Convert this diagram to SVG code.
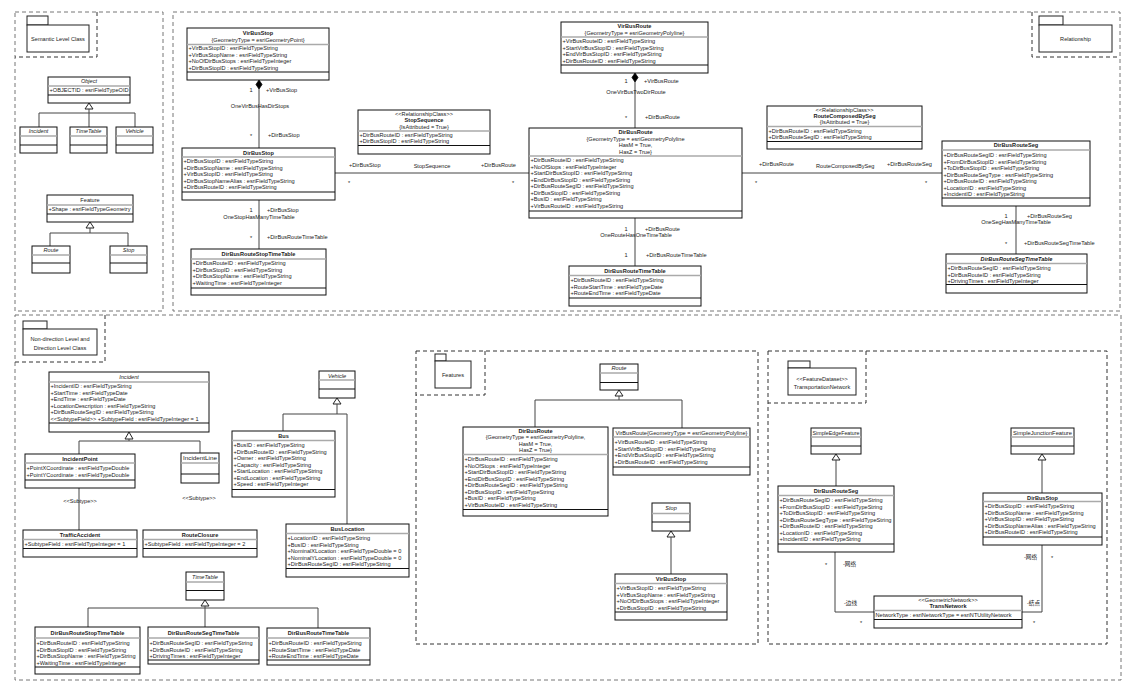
<svg xmlns="http://www.w3.org/2000/svg" width="1132" height="693" viewBox="0 0 1132 693">
<style>
text{font-family:"Liberation Sans","Noto Sans CJK SC",Arial,sans-serif;font-size:5.6px;fill:#1a1a1a}
.t{font-weight:bold;text-anchor:middle}
.i{font-style:italic;text-anchor:middle}
.c{text-anchor:middle}
.e{text-anchor:end}
.box{fill:#fff;stroke:#111;stroke-width:1}
.s1{stroke:#aaa;stroke-width:1.4;fill:none}
.s2{stroke:#111;stroke-width:1.2;fill:none}
.panel{fill:none;stroke:#777;stroke-width:1;stroke-dasharray:4 3}
.pk{fill:none;stroke:#333;stroke-width:1;stroke-dasharray:4 3}
.fold{fill:#fff;stroke:#222;stroke-width:1}
.ln{fill:none;stroke:#444;stroke-width:1}
.tri{fill:#fff;stroke:#222;stroke-width:1}
.dia{fill:#000;stroke:#000;stroke-width:0.8}
</style>
<rect x="0" y="0" width="1132" height="693" fill="#fff"/>

<g id="panels">
<rect class="panel" x="15" y="12" width="148" height="299"/>
<rect class="panel" x="173" y="12" width="947" height="299"/>
<rect class="panel" x="15" y="315" width="1106" height="365"/>
<rect class="pk" x="416" y="351" width="342" height="293"/>
<rect class="pk" x="768" y="351" width="339" height="293"/>
<path class="pk" d="M97,12V57H15"/>
<path class="pk" d="M1032,12V57H1120"/>
<path class="pk" d="M105,315V362H15"/>
<path class="pk" d="M485,351V395H416"/>
<path class="pk" d="M866,351V403H768"/>
</g>

<g id="pkg-semantic"><rect class="fold" x="27" y="16" width="21" height="9"/><rect class="fold" x="27" y="25" width="62" height="27"/><text class="c" x="58" y="40.5">Semantic Level Class</text></g>
<g id="pkg-relationship"><rect class="fold" x="1039" y="16" width="24" height="9"/><rect class="fold" x="1039" y="25" width="73" height="27"/><text class="c" x="1075.5" y="40.5">Relationship</text></g>
<g id="pkg-nondirection"><rect class="fold" x="23" y="321" width="24" height="8"/><rect class="fold" x="23" y="329" width="74" height="26"/><text class="c" x="60" y="341">Non-direction Level and</text><text class="c" x="60" y="349.5">Direction Level Class</text></g>
<g id="pkg-features"><rect class="fold" x="435" y="354" width="11" height="7"/><rect class="fold" x="435" y="361" width="36" height="27"/><text class="c" x="453" y="377">Features</text></g>
<g id="pkg-transnet"><rect class="fold" x="788" y="361" width="22" height="7"/><rect class="fold" x="788" y="368" width="68" height="27"/><text class="c" x="822" y="381">&lt;&lt;FeatureDataset&gt;&gt;</text><text class="c" x="822" y="388.5">TransportationNetwork</text></g>

<g id="connectors">
<path class="tri" d="M89,103L93,109H85Z"/>
<path class="ln" d="M89,109V113M39,113H135M39,113V127M89,113V127M135,113V127"/>
<path class="tri" d="M90,222L94,228H86Z"/>
<path class="ln" d="M90,228V233M50,233H128M50,233V246M128,233V246"/>
<path class="dia" d="M259,80L262,84.5L259,89L256,84.5Z"/>
<path class="ln" d="M259,89V148M259,200V249M335,173H529"/>
<path class="dia" d="M635,73L638,77.5L635,82L632,77.5Z"/>
<path class="ln" d="M635,82V128M635,218V266M742,173H942M1016,206V254"/>
<path class="tri" d="M129,432L133,439H125Z"/>
<path class="ln" d="M129,439V441M79,441H200M79,441V454M200,441V453M79,488V530"/>
<path class="tri" d="M205,600L209,606H201Z"/>
<path class="ln" d="M205,606V608M88,608H318M88,608V627M205,608V627M318,608V628"/>
<path class="tri" d="M337,398L341,404H333Z"/>
<path class="ln" d="M337,404V414M283,414H347M283,414V431M347,414V524"/>
<path class="tri" d="M619,390L623,396H615Z"/>
<path class="ln" d="M619,396V400M535,400H682M535,400V427M682,400V428"/>
<path class="tri" d="M671,531L675,537H667Z"/>
<path class="ln" d="M671,537V574"/>
<path class="tri" d="M836,454L840,460H832Z"/>
<path class="ln" d="M836,460V486"/>
<path class="tri" d="M1042,454L1046,460H1038Z"/>
<path class="ln" d="M1042,460V493"/>
<path class="ln" d="M835,552V612H874M1042,545V612H1022"/>
<text class="c" x="251" y="92">1</text><text x="266" y="92">+VirBusStop</text>
<text class="c" x="260" y="108">OneVirBusHasDirStops</text>
<text class="c" x="251" y="138">*</text><text x="268" y="137">+DirBusStop</text>
<text class="c" x="251" y="212">1</text><text x="267" y="212">+DirBusStop</text>
<text class="c" x="259" y="219">OneStopHasManyTimeTable</text>
<text class="c" x="251" y="240">*</text><text x="267" y="239">+DirBusRouteTimeTable</text>
<text x="349" y="166.5">+DirBusStop</text><text class="c" x="432" y="168">StopSequence</text><text x="481" y="166.5">+DirBusRoute</text>
<text class="c" x="349" y="185">*</text><text class="c" x="513" y="185">*</text>
<text class="c" x="626" y="83">1</text><text x="644" y="83">+VirBusRoute</text>
<text class="c" x="636" y="94">OneVirBusTwoDirRoute</text>
<text class="c" x="626" y="120">*</text><text x="645" y="119">+DirBusRoute</text>
<text class="c" x="626" y="231">1</text><text x="645" y="231">+DirBusRoute</text>
<text class="c" x="636" y="237">OneRouteHasOneTimeTable</text>
<text class="c" x="626" y="257">1</text><text x="646" y="257">+DirBusRouteTimeTable</text>
<text x="759" y="166">+DirBusRoute</text><text x="816" y="168">RouteComposedBySeg</text><text x="887" y="166">+DirBusRouteSeg</text>
<text class="c" x="756" y="185">*</text><text class="c" x="926" y="185">*</text>
<text class="c" x="1006" y="218">1</text><text x="1027" y="218">+DirBusRouteSeg</text>
<text class="c" x="1016" y="224">OneSegHasManyTimeTable</text>
<text class="c" x="1006" y="246">*</text><text x="1024" y="245">+DirBusRouteSegTimeTable</text>
<text class="c" x="80" y="503">&lt;&lt;Subtype&gt;&gt;</text>
<text class="c" x="199" y="500">&lt;&lt;Subtype&gt;&gt;</text>
<text class="c" x="826" y="567">*</text><text x="843" y="566">-网络</text>
<text x="844" y="605">-边线</text><text class="c" x="861" y="625">*</text>
<text class="e" x="1037" y="559">-网络</text><text class="c" x="1052" y="560">*</text>
<text class="e" x="1040" y="605">-结点</text><text class="c" x="1034" y="625">*</text>
</g>

<g id="n-object"><rect class="box" x="48" y="77" width="82" height="26"/><path class="s1" d="M48,86H130"/><path class="s2" d="M48,95H130"/><text class="i" x="89" y="83">Object</text><text x="49.5" y="92" textLength="79" lengthAdjust="spacingAndGlyphs">+OBJECTID : esriFieldTypeOID</text></g>
<g id="n-incident-a"><rect class="box" x="20" y="127" width="37" height="26"/><path class="s1" d="M20,136H57"/><path class="s2" d="M20,145H57"/><text class="i" x="38.5" y="133">Incident</text></g>
<g id="n-timetable-a"><rect class="box" x="70" y="127" width="37" height="26"/><path class="s1" d="M70,136H107"/><path class="s2" d="M70,145H107"/><text class="i" x="88.5" y="133">TimeTable</text></g>
<g id="n-vehicle-a"><rect class="box" x="116" y="127" width="37" height="26"/><path class="s1" d="M116,136H153"/><path class="s2" d="M116,145H153"/><text class="i" x="134.5" y="133">Vehicle</text></g>
<g id="n-feature"><rect class="box" x="47" y="195" width="86" height="27"/><path class="s1" d="M47,205H133"/><path class="s2" d="M47,214H133"/><text class="c" x="90" y="201.5">Feature</text><text x="48.5" y="211">+Shape : esriFieldTypeGeometry</text></g>
<g id="n-route-a"><rect class="box" x="32" y="246" width="38" height="27"/><path class="s1" d="M32,255H70"/><path class="s2" d="M32,263H70"/><text class="i" x="51" y="252">Route</text></g>
<g id="n-stop-a"><rect class="box" x="110" y="246" width="37" height="27"/><path class="s1" d="M110,255H147"/><path class="s2" d="M110,263H147"/><text class="i" x="128.5" y="252">Stop</text></g>

<g id="n-virbusstop"><rect class="box" x="187" y="28" width="142" height="52"/><path class="s1" d="M187,44.5H329"/><path class="s2" d="M187,72H329"/><text class="t" x="258" y="35">VirBusStop</text><text class="c" x="258" y="41.5">{GeometryType = esriGeometryPoint}</text><text x="188.5" y="50">+VirBusStopID : esriFieldTypeString</text><text x="188.5" y="56.5">+VirBusStopName : esriFieldTypeString</text><text x="188.5" y="63">+NoOfDirBusStops : esriFieldTypeInteger</text><text x="188.5" y="69.5">+DirBusStopID : esriFieldTypeString</text></g>
<g id="n-dirbusstop"><rect class="box" x="182" y="148" width="153" height="52"/><path class="s1" d="M182,157H335"/><path class="s2" d="M182,192H335"/><text class="t" x="258.5" y="154.5">DirBusStop</text><text x="183.5" y="163">+DirBusStopID : esriFieldTypeString</text><text x="183.5" y="169.5">+DirBusStopName : esriFieldTypeString</text><text x="183.5" y="176">+VirBusStopID : esriFieldTypeString</text><text x="183.5" y="182.5">+DirBusStopNameAlias : esriFieldTypeString</text><text x="183.5" y="189">+DirBusRouteID : esriFieldTypeString</text></g>
<g id="n-dbrstt-a"><rect class="box" x="191" y="249" width="135" height="46"/><path class="s1" d="M191,259H326"/><path class="s2" d="M191,288H326"/><text class="t" x="258.5" y="256">DirBusRouteStopTimeTable</text><text x="192.5" y="265">+DirBusRouteID : esriFieldTypeString</text><text x="192.5" y="271.5">+DirBusStopID : esriFieldTypeString</text><text x="192.5" y="278">+DirBusStopName : esriFieldTypeString</text><text x="192.5" y="284.5">+WaitingTime : esriFieldTypeInteger</text></g>
<g id="n-stopsequence"><rect class="box" x="358" y="110" width="132" height="44"/><path class="s1" d="M358,131H490"/><path class="s2" d="M358,145.5H490"/><text class="c" x="424" y="116">&lt;&lt;RelationshipClass&gt;&gt;</text><text class="t" x="424" y="122">StopSequence</text><text class="c" x="424" y="128.5">{IsAttributed = True}</text><text x="359.5" y="137">+DirBusRouteID : esriFieldTypeString</text><text x="359.5" y="143">+DirBusStopID : esriFieldTypeString</text></g>
<g id="n-virbusroute"><rect class="box" x="561" y="22" width="147" height="51"/><path class="s1" d="M561,37H708"/><path class="s2" d="M561,65H708"/><text class="t" x="634.5" y="28">VirBusRoute</text><text class="c" x="634.5" y="34.5">{GeometryType = esriGeometryPolyline}</text><text x="562.5" y="43">+VirBusRouteID : esriFieldTypeString</text><text x="562.5" y="49.5">+StartVirBusStopID : esriFieldTypeString</text><text x="562.5" y="56">+EndVirBusStopID : esriFieldTypeString</text><text x="562.5" y="62.5">+DirBusRouteID : esriFieldTypeString</text></g>
<g id="n-dirbusroute"><rect class="box" x="529" y="128" width="213" height="90"/><path class="s1" d="M529,156H742"/><path class="s2" d="M529,211H742"/><text class="t" x="635.5" y="134">DirBusRoute</text><text class="c" x="635.5" y="140.5">{GeometryType = esriGeometryPolyline</text><text class="c" x="635.5" y="147">HasM = True,</text><text class="c" x="635.5" y="153.5">HasZ = True}</text><text x="530.5" y="162">+DirBusRouteID : esriFieldTypeString</text><text x="530.5" y="168.5">+NoOfStops : esriFieldTypeInteger</text><text x="530.5" y="175">+StartDirBusStopID : esriFieldTypeString</text><text x="530.5" y="181.5">+EndDirBusStopID : esriFieldTypeString</text><text x="530.5" y="188">+DirBusRouteSegID : esriFieldTypeString</text><text x="530.5" y="194.5">+DirBusStopID : esriFieldTypeString</text><text x="530.5" y="201">+BusID : esriFieldTypeString</text><text x="530.5" y="207.5">+VirBusRouteID : esriFieldTypeString</text></g>
<g id="n-dbrtt-a"><rect class="box" x="569" y="266" width="132" height="40"/><path class="s1" d="M569,275.5H701"/><path class="s2" d="M569,298H701"/><text class="t" x="635" y="273">DirBusRouteTimeTable</text><text x="570.5" y="282">+DirBusRouteID : esriFieldTypeString</text><text x="570.5" y="288.5">+RouteStartTime : esriFieldTypeDate</text><text x="570.5" y="295">+RouteEndTime : esriFieldTypeDate</text></g>
<g id="n-routecomposedbyseg"><rect class="box" x="767" y="106" width="155" height="43"/><path class="s1" d="M767,126.5H922"/><path class="s2" d="M767,141.5H922"/><text class="c" x="844.5" y="111.5">&lt;&lt;RelationshipClass&gt;&gt;</text><text class="t" x="844.5" y="117.5">RouteComposedBySeg</text><text class="c" x="844.5" y="124">{IsAttributed = True}</text><text x="768.5" y="133">+DirBusRouteID : esriFieldTypeString</text><text x="768.5" y="139">+DirBusRouteSegID : esriFieldTypeString</text></g>
<g id="n-dirbusrouteseg"><rect class="box" x="942" y="141" width="148" height="65"/><path class="s1" d="M942,150H1090"/><path class="s2" d="M942,198H1090"/><text class="t" x="1016" y="147">DirBusRouteSeg</text><text x="943.5" y="157">+DirBusRouteSegID : esriFieldTypeString</text><text x="943.5" y="163.5">+FromDirBusStopID : esriFieldTypeString</text><text x="943.5" y="170">+ToDirBusStopID : esriFieldTypeString</text><text x="943.5" y="176.5">+DirBusRouteSegType : esriFieldTypeString</text><text x="943.5" y="183">+DirBusRouteID : esriFieldTypeString</text><text x="943.5" y="189.5">+LocationID : esriFieldTypeString</text><text x="943.5" y="196">+IncidentID : esriFieldTypeString</text></g>
<g id="n-dbrstt2-a"><rect class="box" x="946" y="254" width="141" height="39"/><path class="s1" d="M946,263.5H1087"/><path class="s2" d="M946,284.5H1087"/><text class="t" x="1016.5" y="261" font-style="italic">DirBusRouteSegTimeTable</text><text x="947.5" y="270">+DirBusRouteSegID : esriFieldTypeString</text><text x="947.5" y="276.5">+DirBusRouteID : esriFieldTypeString</text><text x="947.5" y="283">+DrivingTimes : esriFieldTypeInteger</text></g>

<g id="n-incident"><rect class="box" x="49" y="372" width="160" height="60"/><path class="s1" d="M49,382H209"/><path class="s2" d="M49,423H209"/><text class="i" x="129" y="379">Incident</text><text x="50.5" y="388">+IncidentID : esriFieldTypeString</text><text x="50.5" y="394.5">+StartTime : esriFieldTypeDate</text><text x="50.5" y="401">+EndTime : esriFieldTypeDate</text><text x="50.5" y="407.5">+LocationDescription : esriFieldTypeString</text><text x="50.5" y="414">+DirBusRouteSegID : esriFieldTypeString</text><text x="50.5" y="420.5">&lt;&lt;SubtypeField&gt;&gt; +SubtypeField : esriFieldTypeInteger = 1</text></g>
<g id="n-incidentpoint"><rect class="box" x="25" y="454" width="110" height="34"/><path class="s1" d="M25,463H135"/><path class="s2" d="M25,480H135"/><text class="t" x="80" y="460.5">IncidentPoint</text><text x="26.5" y="470">+PointXCoordinate : esriFieldTypeDouble</text><text x="26.5" y="477">+PointYCoordinate : esriFieldTypeDouble</text></g>
<g id="n-incidentline"><rect class="box" x="181" y="453" width="38" height="30"/><path class="s1" d="M181,463H219"/><path class="s2" d="M181,474H219"/><text class="c" x="200" y="460" textLength="34" lengthAdjust="spacingAndGlyphs">IncidentLine</text></g>
<g id="n-trafficaccident"><rect class="box" x="23" y="530" width="114" height="27"/><path class="s1" d="M23,539.5H137"/><path class="s2" d="M23,548.5H137"/><text class="t" x="80" y="537">TrafficAccident</text><text x="24.5" y="546">+SubtypeField : esriFieldTypeInteger = 1</text></g>
<g id="n-routeclosure"><rect class="box" x="143" y="530" width="114" height="27"/><path class="s1" d="M143,539.5H257"/><path class="s2" d="M143,548.5H257"/><text class="t" x="200" y="537">RouteClosure</text><text x="144.5" y="546">+SubtypeField : esriFieldTypeInteger = 2</text></g>
<g id="n-timetable"><rect class="box" x="186" y="572" width="38" height="28"/><path class="s1" d="M186,582H224"/><path class="s2" d="M186,590.5H224"/><text class="i" x="205" y="578.5">TimeTable</text></g>
<g id="n-dbrstt"><rect class="box" x="35" y="627" width="105" height="47"/><path class="s1" d="M35,638H140"/><path class="s2" d="M35,667H140"/><text class="t" x="87.5" y="635">DirBusRouteStopTimeTable</text><text x="36.5" y="645">+DirBusRouteID : esriFieldTypeString</text><text x="36.5" y="651.5">+DirBusStopID : esriFieldTypeString</text><text x="36.5" y="658">+DirBusStopName : esriFieldTypeString</text><text x="36.5" y="664.5">+WaitingTime : esriFieldTypeInteger</text></g>
<g id="n-dbrsegtt"><rect class="box" x="148" y="627" width="111" height="37"/><path class="s1" d="M148,638H259"/><path class="s2" d="M148,660H259"/><text class="t" x="203.5" y="635">DirBusRouteSegTimeTable</text><text x="149.5" y="645">+DirBusRouteSegID : esriFieldTypeString</text><text x="149.5" y="651.5">+DirBusRouteID : esriFieldTypeString</text><text x="149.5" y="658">+DrivingTimes : esriFieldTypeInteger</text></g>
<g id="n-dbrtt"><rect class="box" x="267" y="628" width="103" height="37"/><path class="s1" d="M267,638H370"/><path class="s2" d="M267,660H370"/><text class="t" x="318.5" y="635">DirBusRouteTimeTable</text><text x="268.5" y="645">+DirBusRouteID : esriFieldTypeString</text><text x="268.5" y="651.5">+RouteStartTime : esriFieldTypeDate</text><text x="268.5" y="658">+RouteEndTime : esriFieldTypeDate</text></g>
<g id="n-vehicle"><rect class="box" x="319" y="371" width="36" height="27"/><path class="s1" d="M319,380H355"/><path class="s2" d="M319,389H355"/><text class="i" x="337" y="377.5">Vehicle</text></g>
<g id="n-bus"><rect class="box" x="232" y="431" width="103" height="66"/><path class="s1" d="M232,440.5H335"/><path class="s2" d="M232,489.5H335"/><text class="t" x="283.5" y="438">Bus</text><text x="233.5" y="447">+BusID : esriFieldTypeString</text><text x="233.5" y="453.5">+DirBusRouteID : esriFieldTypeString</text><text x="233.5" y="460">+Owner : esriFieldTypeString</text><text x="233.5" y="466.5">+Capacity : esriFieldTypeString</text><text x="233.5" y="473">+StartLocation : esriFieldTypeString</text><text x="233.5" y="479.5">+EndLocation : esriFieldTypeString</text><text x="233.5" y="486">+Speed : esriFieldTypeInteger</text></g>
<g id="n-buslocation"><rect class="box" x="286" y="524" width="123" height="53"/><path class="s1" d="M286,533.5H409"/><path class="s2" d="M286,568.5H409"/><text class="t" x="347.5" y="531">BusLocation</text><text x="287.5" y="540">+LocationID : esriFieldTypeString</text><text x="287.5" y="546.5">+BusID : esriFieldTypeString</text><text x="287.5" y="553">+NominalXLocation : esriFieldTypeDouble = 0</text><text x="287.5" y="559.5">+NominalYLocation : esriFieldTypeDouble = 0</text><text x="287.5" y="566">+DirBusRouteSegID : esriFieldTypeString</text></g>

<g id="n-route"><rect class="box" x="600" y="364" width="38" height="26"/><path class="s1" d="M600,373H638"/><path class="s2" d="M600,382.5H638"/><text class="i" x="619" y="370">Route</text></g>
<g id="n-dirbusroute-f"><rect class="box" x="463" y="427" width="145" height="89"/><path class="s1" d="M463,454.5H608"/><path class="s2" d="M463,509.5H608"/><text class="t" x="535.5" y="433">DirBusRoute</text><text class="c" x="535.5" y="439">{GeometryType = esriGeometryPolyline,</text><text class="c" x="535.5" y="445.5">HasM = True,</text><text class="c" x="535.5" y="452">HasZ = True}</text><text x="464.5" y="461">+DirBusRouteID : esriFieldTypeString</text><text x="464.5" y="467.5">+NoOfStops : esriFieldTypeInteger</text><text x="464.5" y="474">+StartDirBusStopID : esriFieldTypeString</text><text x="464.5" y="480.5">+EndDirBusStopID : esriFieldTypeString</text><text x="464.5" y="487">+DirBusRouteSegID : esriFieldTypeString</text><text x="464.5" y="493.5">+DirBusStopID : esriFieldTypeString</text><text x="464.5" y="500">+BusID : esriFieldTypeString</text><text x="464.5" y="506.5">+VirBusRouteID : esriFieldTypeString</text></g>
<g id="n-virbusroute-f"><rect class="box" x="613" y="428" width="137" height="47"/><path class="s1" d="M613,437H750"/><path class="s2" d="M613,467H750"/><text class="c" x="681.5" y="434.5" textLength="132" lengthAdjust="spacingAndGlyphs">VirBusRoute{GeometryType = esriGeometryPolyline}</text><text x="614.5" y="444">+VirBusRouteID : esriFieldTypeString</text><text x="614.5" y="450.5">+StartVirBusStopID : esriFieldTypeString</text><text x="614.5" y="457">+EndVirBusStopID : esriFieldTypeString</text><text x="614.5" y="463.5">+DirBusRouteID : esriFieldTypeString</text></g>
<g id="n-stop"><rect class="box" x="652" y="503" width="38" height="28"/><path class="s1" d="M652,513.5H690"/><path class="s2" d="M652,522H690"/><text class="i" x="671" y="510">Stop</text></g>
<g id="n-virbusstop-f"><rect class="box" x="615" y="574" width="112" height="46"/><path class="s1" d="M615,583.5H727"/><path class="s2" d="M615,612H727"/><text class="t" x="671" y="581">VirBusStop</text><text x="616.5" y="590">+VirBusStopID : esriFieldTypeString</text><text x="616.5" y="596.5">+VirBusStopName : esriFieldTypeString</text><text x="616.5" y="603">+NoOfDirBusStops : esriFieldTypeInteger</text><text x="616.5" y="609.5">+DirBusStopID : esriFieldTypeString</text></g>

<g id="n-simpleedge"><rect class="box" x="811" y="428" width="50" height="26"/><path class="s1" d="M811,437H861"/><path class="s2" d="M811,446H861"/><text class="c" x="836" y="434.5" textLength="47" lengthAdjust="spacingAndGlyphs">SimpleEdgeFeature</text></g>
<g id="n-simplejunction"><rect class="box" x="1011" y="428" width="63" height="26"/><path class="s1" d="M1011,437H1074"/><path class="s2" d="M1011,446H1074"/><text class="c" x="1042.5" y="434.5" textLength="59" lengthAdjust="spacingAndGlyphs">SimpleJunctionFeature</text></g>
<g id="n-dirbusrouteseg-n"><rect class="box" x="778" y="486" width="116" height="66"/><path class="s1" d="M778,495.5H894"/><path class="s2" d="M778,544H894"/><text class="t" x="836" y="493">DirBusRouteSeg</text><text x="779.5" y="502">+DirBusRouteSegID : esriFieldTypeString</text><text x="779.5" y="508.5">+FromDirBusStopID : esriFieldTypeString</text><text x="779.5" y="515">+ToDirBusStopID : esriFieldTypeString</text><text x="779.5" y="521.5" textLength="112" lengthAdjust="spacingAndGlyphs">+DirBusRouteSegType : esriFieldTypeString</text><text x="779.5" y="528">+DirBusRouteID : esriFieldTypeString</text><text x="779.5" y="534.5">+LocationID : esriFieldTypeString</text><text x="779.5" y="541">+IncidentID : esriFieldTypeString</text></g>
<g id="n-dirbusstop-n"><rect class="box" x="983" y="493" width="119" height="52"/><path class="s1" d="M983,501.5H1102"/><path class="s2" d="M983,537H1102"/><text class="t" x="1042.5" y="499.5">DirBusStop</text><text x="984.5" y="508">+DirBusStopID : esriFieldTypeString</text><text x="984.5" y="514.5">+DirBusStopName : esriFieldTypeString</text><text x="984.5" y="521">+VirBusStopID : esriFieldTypeString</text><text x="984.5" y="527.5">+DirBusStopNameAlias : esriFieldTypeString</text><text x="984.5" y="534">+DirBusRouteID : esriFieldTypeString</text></g>
<g id="n-transnetwork"><rect class="box" x="874" y="596" width="148" height="32"/><path class="s1" d="M874,610.5H1022"/><path class="s2" d="M874,619.5H1022"/><text class="c" x="948" y="601.5">&lt;&lt;GeometricNetwork&gt;&gt;</text><text class="t" x="948" y="608">TransNetwork</text><text x="875.5" y="617">NetworkType : esriNetworkType = esriNTUtilityNetwork</text></g>
</svg>
